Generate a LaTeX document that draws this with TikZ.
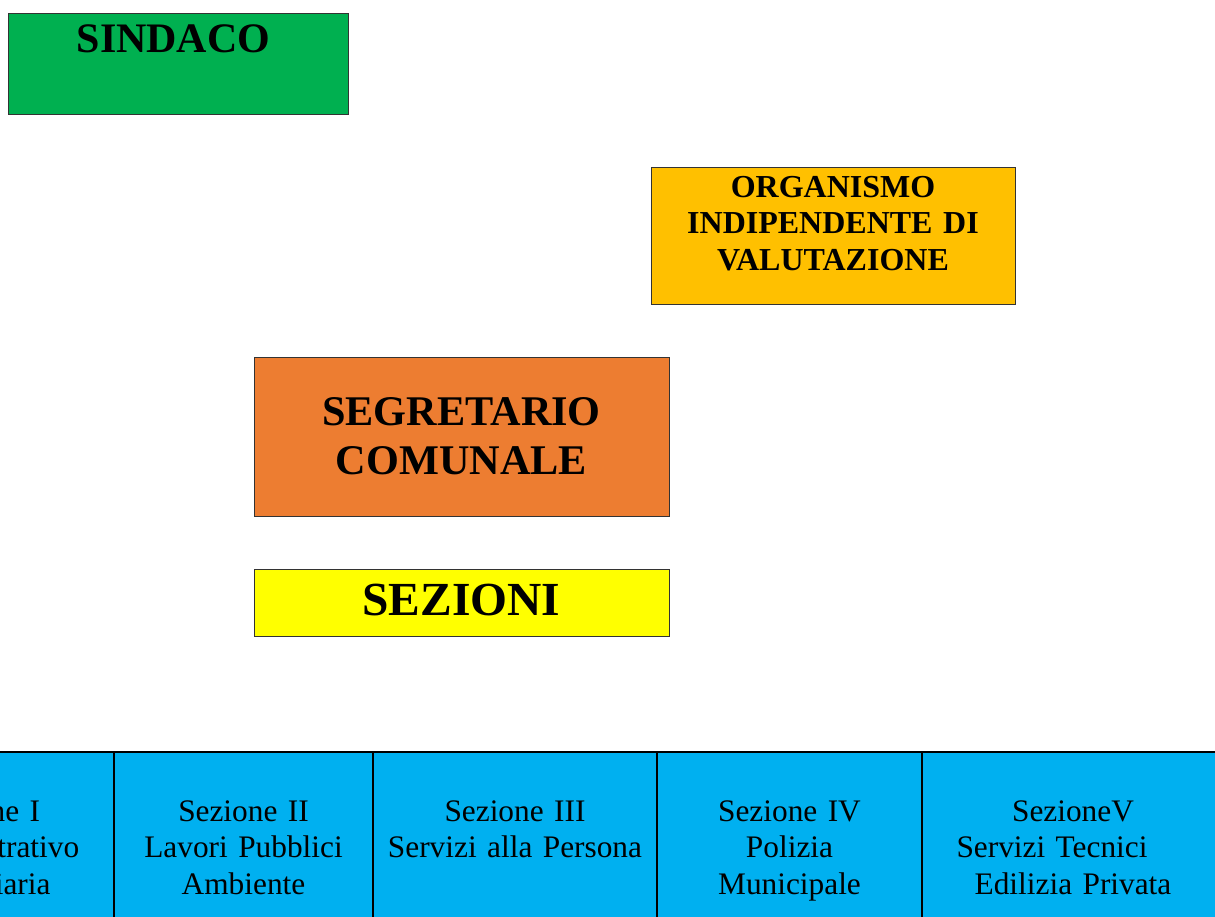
\documentclass[tikz,border=0pt]{standalone}
\usepackage{fontspec}
\setmainfont{Liberation Serif}
\usetikzlibrary{positioning}
\definecolor{sindacogreen}{HTML}{00B050}
\definecolor{oivgold}{HTML}{FFC000}
\definecolor{segrorange}{HTML}{ED7D31}
\definecolor{sezyellow}{HTML}{FFFF00}
\definecolor{cellblue}{HTML}{00B0F0}

\tikzset{
  office/.style={draw=black!80, line width=0.6pt, inner sep=0pt, outer sep=0pt, align=center},
  sezione/.style={draw=black, line width=1.5pt, fill=cellblue, inner sep=0pt, outer sep=0pt,
    align=center, text height=51.75pt, text depth=104.25pt,
    font=\fontsize{23.5pt}{27.4pt}\selectfont},
}

\begin{document}
\begin{tikzpicture}[x=0.75pt, y=-0.75pt]
  \useasboundingbox (0,0) rectangle (1215,917);
  \clip (0,0) rectangle (1215,917);
  % Define offices
  \node[office, fill=sindacogreen, text width=255pt, text height=29.8pt, text depth=46pt,
        font=\fontsize{31.5pt}{37pt}\selectfont\bfseries, anchor=north west] (sindaco) at (8,13)
        {\mbox{SINDACO\hspace{6.75pt}}};
  \node[office, fill=oivgold, text width=273pt, text height=22.7pt, text depth=80pt,
        font=\fontsize{24pt}{27.4pt}\selectfont\bfseries, anchor=north west] (oiv) at (651,167)
        {ORGANISMO\\INDIPENDENTE DI\\VALUTAZIONE};
  \node[office, fill=segrorange, text width=311.25pt, text height=51pt, text depth=68.25pt,
        font=\fontsize{31.7pt}{36.75pt}\selectfont\bfseries, anchor=north west] (segretario) at (254,357)
        {SEGRETARIO\\COMUNALE};
  \node[office, fill=sezyellow, text width=311.25pt, text height=34.5pt, text depth=15.75pt,
        font=\fontsize{35.6pt}{40pt}\selectfont\bfseries, below=39.75pt of segretario] (sezioni) {SEZIONI};
  % Define sections
  \node[sezione, text width=201pt, anchor=north east] (sezI) at (114,752) {Sezione I\\Amministrativo\\Finanziaria};
  \node[sezione, text width=194.25pt, right=0pt of sezI] (sezII) {Sezione II\\Lavori Pubblici\\Ambiente};
  \node[sezione, text width=213pt, right=0pt of sezII] (sezIII) {Sezione III\\Servizi alla Persona\\\mbox{}};
  \node[sezione, text width=198.75pt, right=0pt of sezIII] (sezIV) {Sezione IV\\Polizia\\Municipale};
  \node[sezione, text width=226.5pt, right=0pt of sezIV] (sezV)
        {SezioneV\\\mbox{Servizi Tecnici\hspace{31.5pt}}\\Edilizia Privata};
\end{tikzpicture}
\end{document}
